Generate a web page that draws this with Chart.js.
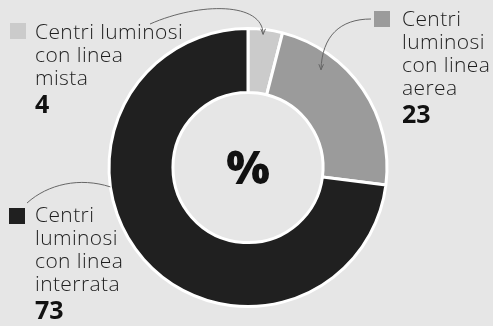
<!DOCTYPE html>
<html>
<head>
<meta charset="utf-8">
<script src="https://cdn.jsdelivr.net/npm/chart.js@4"></script>
<style>
  html, body { margin: 0; padding: 0; background: #e6e6e6; }
  #wrap { position: relative; width: 493px; height: 326px; overflow: hidden; }
  canvas { position: absolute; left: 0; top: 0; }
  .lbl { position: absolute; font-family: "Open Sans", sans-serif; font-weight: 300; font-size: 21px; letter-spacing: 0.4px; line-height: 23px; color: #1e1e1e; white-space: nowrap; }
  .lbl b { display: block; font-size: 25px; letter-spacing: 0; line-height: 28px; font-weight: 700; color: #111; }
  .sq { position: absolute; width: 16px; height: 16px; }
  #pct { position: absolute; left: 208px; top: 136px; width: 80px; text-align: center; font-family: "Open Sans", sans-serif; font-weight: 800; font-size: 46px; line-height: 60px; color: #111; }
</style>
</head>
<body>
<div id="wrap">
  <canvas id="chart1" width="493" height="326"></canvas>
  <div class="sq" id="sq0"></div>
  <div class="lbl" id="lbl0"></div>
  <div class="sq" id="sq1"></div>
  <div class="lbl" id="lbl1"></div>
  <div class="sq" id="sq2"></div>
  <div class="lbl" id="lbl2"></div>
  <div id="pct">%</div>
</div>
<script>
// centri luminosi by type of line, percent
var labels = ["Centri luminosi con linea mista", "Centri luminosi con linea aerea", "Centri luminosi con linea interrata"];
var labelLines = [
  ["Centri luminosi", "con linea", "mista"],
  ["Centri", "luminosi", "con linea", "aerea"],
  ["Centri", "luminosi", "con linea", "interrata"]
];
var values = [4, 23, 73];
var colors = ["#cbcbcb", "#9b9b9b", "#202020"];

// where each text block sits (square + text)
var labelBoxes = [
  { sx: 10, sy: 23, tx: 35, ty: 20 },
  { sx: 374, sy: 11, tx: 402, ty: 7 },
  { sx: 9, sy: 208, tx: 35, ty: 203 }
];

// leader lines: start point, two control points, and where on the slice they land
var leaders = [
  { from: [150, 24], c1: [200, 2], c2: [263, 2], frac: 0.45, dr: -5, arrow: true },
  { from: [371, 19], c1: [340, 19], c2: [322, 36], frac: 0.27, dr: -17, arrow: true },
  { from: [27, 203], c1: [48, 184], c2: [80, 177], frac: 0.627, dr: 0, arrow: false }
];

labelLines.forEach(function (lines, i) {
  var box = labelBoxes[i];
  var sq = document.getElementById("sq" + i);
  sq.style.left = box.sx + "px";
  sq.style.top = box.sy + "px";
  sq.style.background = colors[i];
  var el = document.getElementById("lbl" + i);
  el.style.left = box.tx + "px";
  el.style.top = box.ty + "px";
  el.innerHTML = lines.join("<br>") + "<b>" + values[i] + "</b>";
});

var leaderPlugin = {
  id: "leaders",
  afterDraw: function (chart) {
    var ctx = chart.ctx;
    var arcs = chart.getDatasetMeta(0).data;
    ctx.save();
    ctx.strokeStyle = "#666";
    ctx.lineWidth = 1;
    leaders.forEach(function (l, i) {
      var a = arcs[i];
      var ang = a.startAngle + (a.endAngle - a.startAngle) * l.frac;
      var r = a.outerRadius + l.dr;
      var ex = a.x + Math.cos(ang) * r;
      var ey = a.y + Math.sin(ang) * r;
      ctx.beginPath();
      ctx.moveTo(l.from[0], l.from[1]);
      ctx.bezierCurveTo(l.c1[0], l.c1[1], l.c2[0], l.c2[1], ex, ey);
      ctx.stroke();
      if (l.arrow) {
        var dir = Math.atan2(ey - l.c2[1], ex - l.c2[0]);
        ctx.beginPath();
        ctx.moveTo(ex, ey);
        ctx.lineTo(ex - 6 * Math.cos(dir - 0.4), ey - 6 * Math.sin(dir - 0.4));
        ctx.moveTo(ex, ey);
        ctx.lineTo(ex - 6 * Math.cos(dir + 0.4), ey - 6 * Math.sin(dir + 0.4));
        ctx.stroke();
      }
    });
    ctx.restore();
  }
};

var ctx = document.getElementById("chart1").getContext("2d");
var myChart = new Chart(ctx, {
  type: "doughnut",
  data: {
    labels: labels,
    datasets: [
      {
        data: values,
        backgroundColor: colors,
        borderColor: "#ffffff",
        borderWidth: 3,
      },
    ],
  },
  options: {
    responsive: false,
    animation: false,
    cutout: "54%",
    layout: { padding: { top: 27, bottom: 18, left: 3, right: 0 } },
    plugins: {
      legend: { display: false },
      tooltip: { enabled: false },
    },
  },
  plugins: [leaderPlugin],
});
</script>
</body>
</html>
